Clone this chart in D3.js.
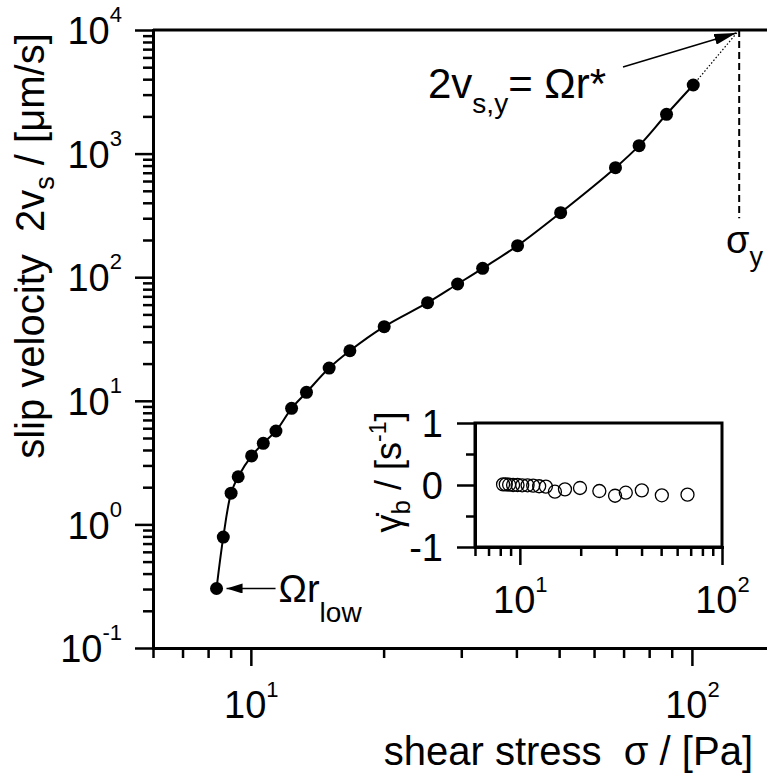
<!DOCTYPE html>
<html><head><meta charset="utf-8">
<script src="https://cdn.jsdelivr.net/npm/d3@7"></script>
<style>
html,body{margin:0;padding:0;background:#fff;}
svg{display:block;font-family:"Liberation Sans",Arial,Helvetica,sans-serif;}
</style></head><body>
<svg id="chart" width="767" height="778"></svg>
<script>
// ---- data ----
const shearStress  = [8.36, 8.66, 9.02, 9.36, 10.04, 10.67, 11.40, 12.37, 13.37, 15.05, 16.77, 20.06, 25.16, 29.43, 33.54, 40.25, 50.4, 67.1, 75.9, 87.6, 100.7];
const slipVelocity = [0.303, 0.79, 1.79, 2.43, 3.58, 4.53, 5.70, 8.69, 11.7, 18.4, 25.4, 39.8, 62.2, 88.1, 118, 180, 333, 769, 1159, 2080, 3590];
const yieldStress = 128;
const yieldVelocity = 10000;
const yieldMarkerBottom = 300;   // value where the dashed σy marker ends

const insetStress    = [8.26, 8.52, 8.85, 9.26, 9.74, 10.27, 10.92, 11.64, 12.46, 13.45, 14.91, 16.72, 19.84, 24.73, 29.58, 33.42, 40.12, 50.4, 67.5];
const insetShearRate = [0.01, 0.01, 0.005, 0.0, 0.0, -0.005, -0.005, -0.01, -0.02, -0.027, -0.108, -0.07, -0.048, -0.097, -0.173, -0.124, -0.086, -0.166, -0.156];

const xMajorTicks = [10, 100];
const xMajorExp   = ["1", "2"];
const xMinorTicks = [6, 7, 8, 9, 20, 30, 40, 50, 60, 70, 80, 90];
const yMajorTicks = [0.1, 1, 10, 100, 1000, 10000];
const yMajorExp   = ["-1", "0", "1", "2", "3", "4"];
const insetYMajor = [-1, 0, 1];
const insetYLabels = ["-1", "0", "1"];
const insetYMinor = [-0.5, 0.5];
const insetXMinor = [6, 7, 8, 9, 20, 30, 40, 50, 60, 70, 80, 90];

// ---- setup ----
const svg = d3.select("#chart");
const W = 767;
const x = d3.scaleLog().domain([6, 148]).range([153, 767]);
const y = d3.scaleLog().domain([0.1, 10000]).range([648, 30]);
const xi = d3.scaleLog().domain([6, 100]).range([475, 722]);
const yi = d3.scaleLinear().domain([-1, 1]).range([547, 423]);

const FS = 38, SUP = 22, TFS = 40;

function styleAxis(g, sw) {
  g.select(".domain").attr("stroke", "#000").attr("stroke-width", sw).attr("stroke-linecap", "square");
  g.selectAll(".tick line").attr("stroke", "#000").attr("stroke-width", 2.5);
}
function powLabels(g, exps, supDy) {
  g.selectAll(".tick text").each(function(d, i) {
    const t = d3.select(this).text(null).attr("font-size", FS).attr("fill", "#000");
    t.append("tspan").text("10");
    t.append("tspan").attr("font-size", SUP).attr("dy", supDy).text(exps[i]);
  });
}

// ---- main axes ----
const gyMin = svg.append("g").attr("transform", `translate(${x.range()[0]},0)`)
  .call(d3.axisLeft(y).tickValues(y.ticks().filter(v => !yMajorTicks.some(m => Math.abs(m - v) < 1e-9))).tickSize(10).tickSizeOuter(0).tickFormat(() => ""));
styleAxis(gyMin, 3);
const gy = svg.append("g").attr("transform", `translate(${x.range()[0]},0)`)
  .call(d3.axisLeft(y).tickValues(yMajorTicks).tickSize(18).tickSizeOuter(0).tickPadding(13).tickFormat(() => ""));
styleAxis(gy, 3);
gy.selectAll(".tick text").attr("dy", "0.36em");
powLabels(gy, yMajorExp, -22);

const gxMin = svg.append("g").attr("transform", `translate(0,${y.range()[0]})`)
  .call(d3.axisBottom(x).tickValues(xMinorTicks).tickSize(10).tickSizeOuter(0).tickFormat(() => ""));
styleAxis(gxMin, 3);
const gx = svg.append("g").attr("transform", `translate(0,${y.range()[0]})`)
  .call(d3.axisBottom(x).tickValues(xMajorTicks).tickSize(18).tickSizeOuter(0).tickFormat(() => ""));
styleAxis(gx, 3);
gx.selectAll(".tick text").attr("y", 70).attr("dy", 0);
powLabels(gx, xMajorExp, -21);

// top frame line
svg.append("line").attr("x1", x.range()[0]).attr("x2", W).attr("y1", y(10000)).attr("y2", y(10000))
  .attr("stroke", "#000").attr("stroke-width", 3);

// axis titles
const yt = svg.append("text").attr("transform", "translate(44,246) rotate(-90)")
  .attr("text-anchor", "middle").attr("font-size", TFS);
yt.append("tspan").text("slip velocity\u00A0\u00A02v");
yt.append("tspan").attr("font-size", 27).attr("dy", 10).text("s");
yt.append("tspan").attr("dy", -10).text(" / [\u03BCm/s]");

svg.append("text").attr("x", 753).attr("y", 765).attr("text-anchor", "end").attr("font-size", TFS)
  .text("shear stress\u00A0\u00A0\u03C3 / [Pa]");

// ---- markers ----
const defs = svg.append("defs");
defs.append("marker").attr("id", "arrS").attr("markerUnits", "userSpaceOnUse")
  .attr("markerWidth", 17).attr("markerHeight", 10).attr("refX", 16).attr("refY", 5).attr("orient", "auto")
  .append("path").attr("d", "M0,0 L16,5 L0,10 Z").attr("fill", "#000");
defs.append("marker").attr("id", "arrL").attr("markerUnits", "userSpaceOnUse")
  .attr("markerWidth", 23).attr("markerHeight", 11).attr("refX", 22).attr("refY", 5.5).attr("orient", "auto")
  .append("path").attr("d", "M0,0 L22,5.5 L0,11 Z").attr("fill", "#000");

// ---- main data ----
const pts = shearStress.map((s, i) => [x(s), y(slipVelocity[i])]);
svg.append("path").attr("d", d3.line().curve(d3.curveCatmullRom.alpha(0.5))(pts))
  .attr("fill", "none").attr("stroke", "#000").attr("stroke-width", 2);

const lastPt = pts[pts.length - 1];
svg.append("line").attr("x1", lastPt[0]).attr("y1", lastPt[1])
  .attr("x2", x(yieldStress)).attr("y2", y(yieldVelocity))
  .attr("stroke", "#000").attr("stroke-width", 1.2).attr("stroke-dasharray", "1.5,2");

svg.append("line").attr("x1", x(yieldStress)).attr("x2", x(yieldStress))
  .attr("y1", y(yieldVelocity)).attr("y2", y(yieldMarkerBottom))
  .attr("stroke", "#000").attr("stroke-width", 2).attr("stroke-dasharray", "7,4");

svg.append("g").selectAll("circle").data(pts).join("circle")
  .attr("cx", d => d[0]).attr("cy", d => d[1]).attr("r", 6.5).attr("fill", "#000");

// annotations
const p0 = pts[0];
svg.append("line").attr("x1", p0[0] + 59).attr("y1", p0[1]).attr("x2", p0[0] + 10).attr("y2", p0[1])
  .attr("stroke", "#000").attr("stroke-width", 1.5).attr("marker-end", "url(#arrS)");
const lo = svg.append("text").attr("x", p0[0] + 62).attr("y", p0[1] + 14).attr("font-size", 38);
lo.append("tspan").text("\u03A9r");
lo.append("tspan").attr("font-size", 28).attr("dy", 20).text("low");

const yieldPt = [x(yieldStress), y(yieldVelocity)];
svg.append("line").attr("x1", 623).attr("y1", 67).attr("x2", yieldPt[0] - 3).attr("y2", yieldPt[1] + 3)
  .attr("stroke", "#000").attr("stroke-width", 1.5).attr("marker-end", "url(#arrL)");
const an = svg.append("text").attr("x", 428).attr("y", 98).attr("font-size", 42);
an.append("tspan").text("2v");
an.append("tspan").attr("font-size", 28).attr("dy", 15).text("s,y");
an.append("tspan").attr("dy", -15).text("= \u03A9r*");

const sl = svg.append("text").attr("x", 726).attr("y", 253).attr("font-size", 38);
sl.append("tspan").text("\u03C3");
sl.append("tspan").attr("font-size", 27).attr("dy", 13).text("y");

// ---- inset ----
svg.append("rect").attr("x", xi.range()[0]).attr("y", yi.range()[1])
  .attr("width", xi.range()[1] - xi.range()[0]).attr("height", yi.range()[0] - yi.range()[1])
  .attr("fill", "#fff").attr("stroke", "#000").attr("stroke-width", 3);

const iyMin = svg.append("g").attr("transform", `translate(${xi.range()[0]},0)`)
  .call(d3.axisLeft(yi).tickValues(insetYMinor).tickSize(9).tickSizeOuter(0).tickFormat(() => ""));
styleAxis(iyMin, 3);
const iy = svg.append("g").attr("transform", `translate(${xi.range()[0]},0)`)
  .call(d3.axisLeft(yi).tickValues(insetYMajor).tickSize(18).tickSizeOuter(0).tickPadding(14)
  .tickFormat((d, i) => insetYLabels[i]));
styleAxis(iy, 3);
iy.selectAll(".tick text").attr("font-size", FS).attr("fill", "#000").attr("dy", "0.36em");

const ixMin = svg.append("g").attr("transform", `translate(0,${yi.range()[0]})`)
  .call(d3.axisBottom(xi).tickValues(insetXMinor).tickSize(9).tickSizeOuter(0).tickFormat(() => ""));
styleAxis(ixMin, 3);
const ix = svg.append("g").attr("transform", `translate(0,${yi.range()[0]})`)
  .call(d3.axisBottom(xi).tickValues(xMajorTicks).tickSize(18).tickSizeOuter(0).tickFormat(() => ""));
styleAxis(ix, 3);
ix.selectAll(".tick text").attr("y", 66).attr("dy", 0);
powLabels(ix, xMajorExp, -21);

svg.append("g").selectAll("circle").data(insetStress).join("circle")
  .attr("cx", d => xi(d)).attr("cy", (d, i) => yi(insetShearRate[i])).attr("r", 6.5)
  .attr("fill", "none").attr("stroke", "#000").attr("stroke-width", 1.3);

const it = svg.append("text").attr("transform", "translate(401,472) rotate(-90)")
  .attr("text-anchor", "middle").attr("font-size", 36);
it.append("tspan").text("\u03B3\u0307");
it.append("tspan").attr("font-size", 26).attr("dy", 9).text("b");
it.append("tspan").attr("dy", -9).text(" / [s");
it.append("tspan").attr("font-size", 23).attr("dy", -15).text("-1");
it.append("tspan").attr("dy", 15).text("]");
</script>
</body></html>
